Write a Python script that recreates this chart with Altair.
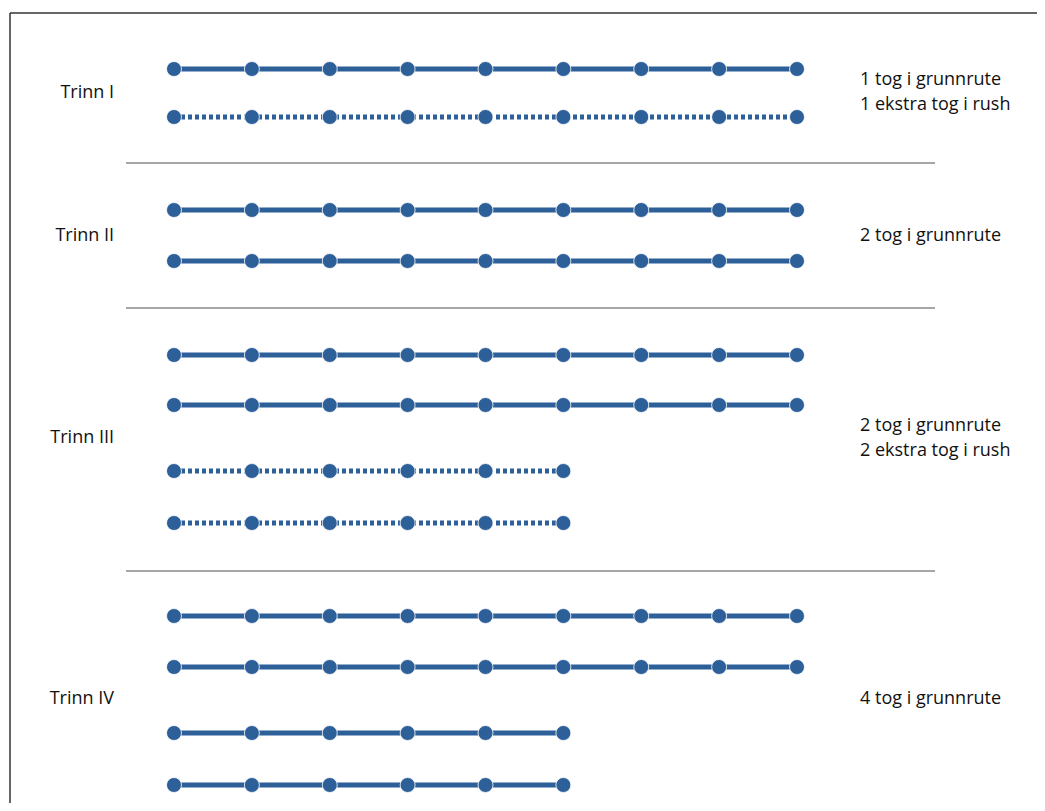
import altair as alt
import pandas as pd

# ---- data ----
stages = ["Trinn I", "Trinn II", "Trinn III", "Trinn IV"]
descriptions = [
    ["1 tog i grunnrute", "1 ekstra tog i rush"],
    ["2 tog i grunnrute"],
    ["2 tog i grunnrute", "2 ekstra tog i rush"],
    ["4 tog i grunnrute"],
]
# stations served by each train line in each stage
line_stations = [
    [9, 9],
    [9, 9],
    [9, 9, 6, 6],
    [9, 9, 6, 6],
]
line_service = [
    ["grunnrute", "rush"],
    ["grunnrute", "grunnrute"],
    ["grunnrute", "grunnrute", "rush", "rush"],
    ["grunnrute", "grunnrute", "grunnrute", "grunnrute"],
]

# ---- layout (chart pixels, top = 0) ----
W, H = 1029, 795
track_y = [[61, 109], [202, 253], [347, 397, 463, 515], [608, 659, 725, 777]]
separator_y = [155, 300, 563]
stage_label_y = [85, 228, 430, 691]
desc_y = [[72, 97], [228], [418, 443], [691]]
x_first_px, x_last_px = 166, 789
step = (x_last_px - x_first_px) / 8
x_dom = [-x_first_px / step, 8 + (W - x_last_px) / step]
left_label_x = (106 - x_first_px) / step
right_label_x = (852 - x_first_px) / step
sep_x0 = (118 - x_first_px) / step
sep_x1 = (927 - x_first_px) / step

BLUE = "#2d5f99"
FONT = "Open Sans"

rows = []
for si, st in enumerate(stages):
    for li, n in enumerate(line_stations[si]):
        for k in range(n):
            rows.append({"track": f"{si}-{li}", "station": k,
                         "y": track_y[si][li], "service": line_service[si][li]})
df = pd.DataFrame(rows)

labels = pd.DataFrame({"x": [left_label_x] * 4, "y": stage_label_y, "text": stages})
drows = []
for si in range(len(stages)):
    for j, t in enumerate(descriptions[si]):
        drows.append({"x": right_label_x, "y": desc_y[si][j], "text": t})
desc = pd.DataFrame(drows)
seps = pd.DataFrame({"x": [sep_x0] * 3, "x2": [sep_x1] * 3, "y": separator_y})

xs = alt.Scale(domain=x_dom, nice=False, zero=False)
ys = alt.Scale(domain=[0, H], reverse=True, nice=False, zero=False)
X = lambda f: alt.X(f, type="quantitative", scale=xs, axis=None)
Y = lambda f: alt.Y(f, type="quantitative", scale=ys, axis=None)

lines = alt.Chart(df).mark_line(color=BLUE, strokeWidth=5).encode(
    x=X("station"), y=Y("y"), detail="track:N",
    strokeDash=alt.StrokeDash("service:N", legend=None,
                              scale=alt.Scale(domain=["grunnrute", "rush"],
                                              range=[[1, 0], [4, 3]])),
)
points = alt.Chart(df).mark_circle(color=BLUE, opacity=1, size=225,
                                   stroke="white", strokeWidth=0.8).encode(
    x=X("station"), y=Y("y"))
sep = alt.Chart(seps).mark_rule(color="#a6a6a6", strokeWidth=2).encode(
    x=X("x"), x2="x2", y=Y("y"))
lab = alt.Chart(labels).mark_text(align="right", baseline="middle", font=FONT,
                                  fontSize=18, color="#111").encode(
    x=X("x"), y=Y("y"), text="text")
dsc = alt.Chart(desc).mark_text(align="left", baseline="middle", font=FONT,
                                fontSize=18, color="#111").encode(
    x=X("x"), y=Y("y"), text="text")
frame_top = alt.Chart(pd.DataFrame({"a": [0]})).mark_rule(color="#333", strokeWidth=1.5).encode(
    x=alt.value(2), x2=alt.value(W), y=alt.value(5))
frame_left = alt.Chart(pd.DataFrame({"a": [0]})).mark_rule(color="#333", strokeWidth=1.5).encode(
    x=alt.value(2), y=alt.value(5), y2=alt.value(H))

chart = alt.layer(frame_top, frame_left, sep, lines, points, lab, dsc).properties(
    width=W, height=H, padding=0, autosize=alt.AutoSizeParams(type="none")
).configure_view(stroke=None)

chart.save("out.html", embed_options={"renderer": "svg", "actions": False})
